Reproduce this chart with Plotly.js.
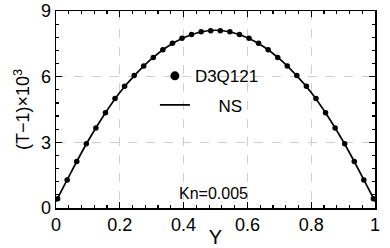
<!DOCTYPE html>
<html>
<head>
<meta charset="utf-8">
<script src="https://cdn.plot.ly/plotly-3.0.1.min.js"></script>
<style>html,body{margin:0;padding:0;background:#fff;}#chart{width:390px;height:248px;}</style>
</head>
<body>
<div id="chart"></div>
<script>
// D3Q121 simulation points
const dvmY = [0.005,0.035,0.065,0.095,0.125,0.155,0.185,0.215,0.245,0.275,0.305,0.335,0.365,0.395,0.425,0.455,0.485,
              0.515,0.545,0.575,0.605,0.635,0.665,0.695,0.725,0.755,0.785,0.815,0.845,0.875,0.905,0.935,0.965,0.995];
const dvmT = [0.42,1.28,2.13,2.93,3.66,4.35,5.0,5.56,6.05,6.49,6.88,7.23,7.53,7.76,7.93,8.05,8.1,
              8.1,8.05,7.93,7.76,7.53,7.23,6.88,6.49,6.05,5.56,5.0,4.35,3.66,2.93,2.13,1.28,0.42];
// NS solution
const nsY = [0,0.05,0.1,0.15,0.2,0.25,0.3,0.35,0.4,0.45,0.5,0.55,0.6,0.65,0.7,0.75,0.8,0.85,0.9,0.95,1];
const nsT = [0.3,1.71,3.05,4.24,5.28,6.12,6.82,7.38,7.78,8.03,8.12,8.03,7.78,7.38,6.82,6.12,5.28,4.24,3.05,1.71,0.3];
const xTicks = [0,0.2,0.4,0.6,0.8,1];
const xTickText = ['0','0.2','0.4','0.6','0.8','1'];
const yTicks = [0,3,6,9];
const yTickText = ['0','3','6','9'];

const font = 'Liberation Sans, Arial, sans-serif';
const NB = '\u00a0';

const traces = [
  {x: dvmY, y: dvmT, name: 'D3Q121', mode: 'markers', type: 'scatter',
   marker: {color: '#000', size: 5.5}, showlegend: false},
  {x: nsY, y: nsT, name: 'NS', mode: 'lines', type: 'scatter',
   line: {color: '#000', width: 1.7, shape: 'spline'}, showlegend: false},
  // legend entries
  {x: [null], y: [null], name: 'D3Q121', mode: 'markers', type: 'scatter',
   marker: {color: '#000', size: 9}, legendgroup: 'a'},
  {x: [null], y: [null], name: NB.repeat(5) + 'NS', mode: 'lines', type: 'scatter',
   line: {color: '#000', width: 1.7}, legendgroup: 'b'}
];

const axisCommon = {
  showline: true, linecolor: '#000', linewidth: 1.5, mirror: 'ticks',
  ticks: 'inside', ticklen: 6, tickwidth: 1.3, tickcolor: '#000',
  showgrid: true, gridcolor: '#cfcfcf', griddash: 'dash', gridwidth: 1,
  zeroline: false, tickfont: {family: font, size: 18, color: '#000'}
};

const layout = {
  width: 390, height: 248,
  margin: {l: 56, r: 15, t: 11, b: 40},
  paper_bgcolor: '#fff', plot_bgcolor: '#fff',
  font: {family: font, color: '#000'},
  xaxis: Object.assign({}, axisCommon, {
    range: [0, 1], tickvals: xTicks, ticktext: xTickText,
    minor: {dtick: 0.04, ticks: 'inside', ticklen: 3, tickwidth: 1.2, tickcolor: '#000', showgrid: false},
    title: {text: 'Y', font: {family: font, size: 20, color: '#000'}, standoff: 0}
  }),
  yaxis: Object.assign({}, axisCommon, {
    range: [0, 9], tickvals: yTicks, ticktext: yTickText,
    minor: {dtick: 0.6, ticks: 'inside', ticklen: 3, tickwidth: 1.2, tickcolor: '#000', showgrid: false},
    title: {text: '(T\u22121)\u00d710<sup>3</sup>', font: {family: font, size: 18, color: '#000'}, standoff: 6}
  }),
  legend: {x: 0.31, y: 0.76, xanchor: 'left', yanchor: 'top', bgcolor: 'rgba(0,0,0,0)',
           font: {family: font, size: 17, color: '#000'},
           traceorder: 'grouped', tracegroupgap: 4},
  annotations: [{x: 0.493, y: 0.66, xref: 'x', yref: 'y', text: 'Kn=0.005', showarrow: false,
                 font: {family: font, size: 16, color: '#000'}}],
  showlegend: true
};

Plotly.newPlot('chart', traces, layout, {displayModeBar: false, staticPlot: true});
</script>
</body>
</html>
